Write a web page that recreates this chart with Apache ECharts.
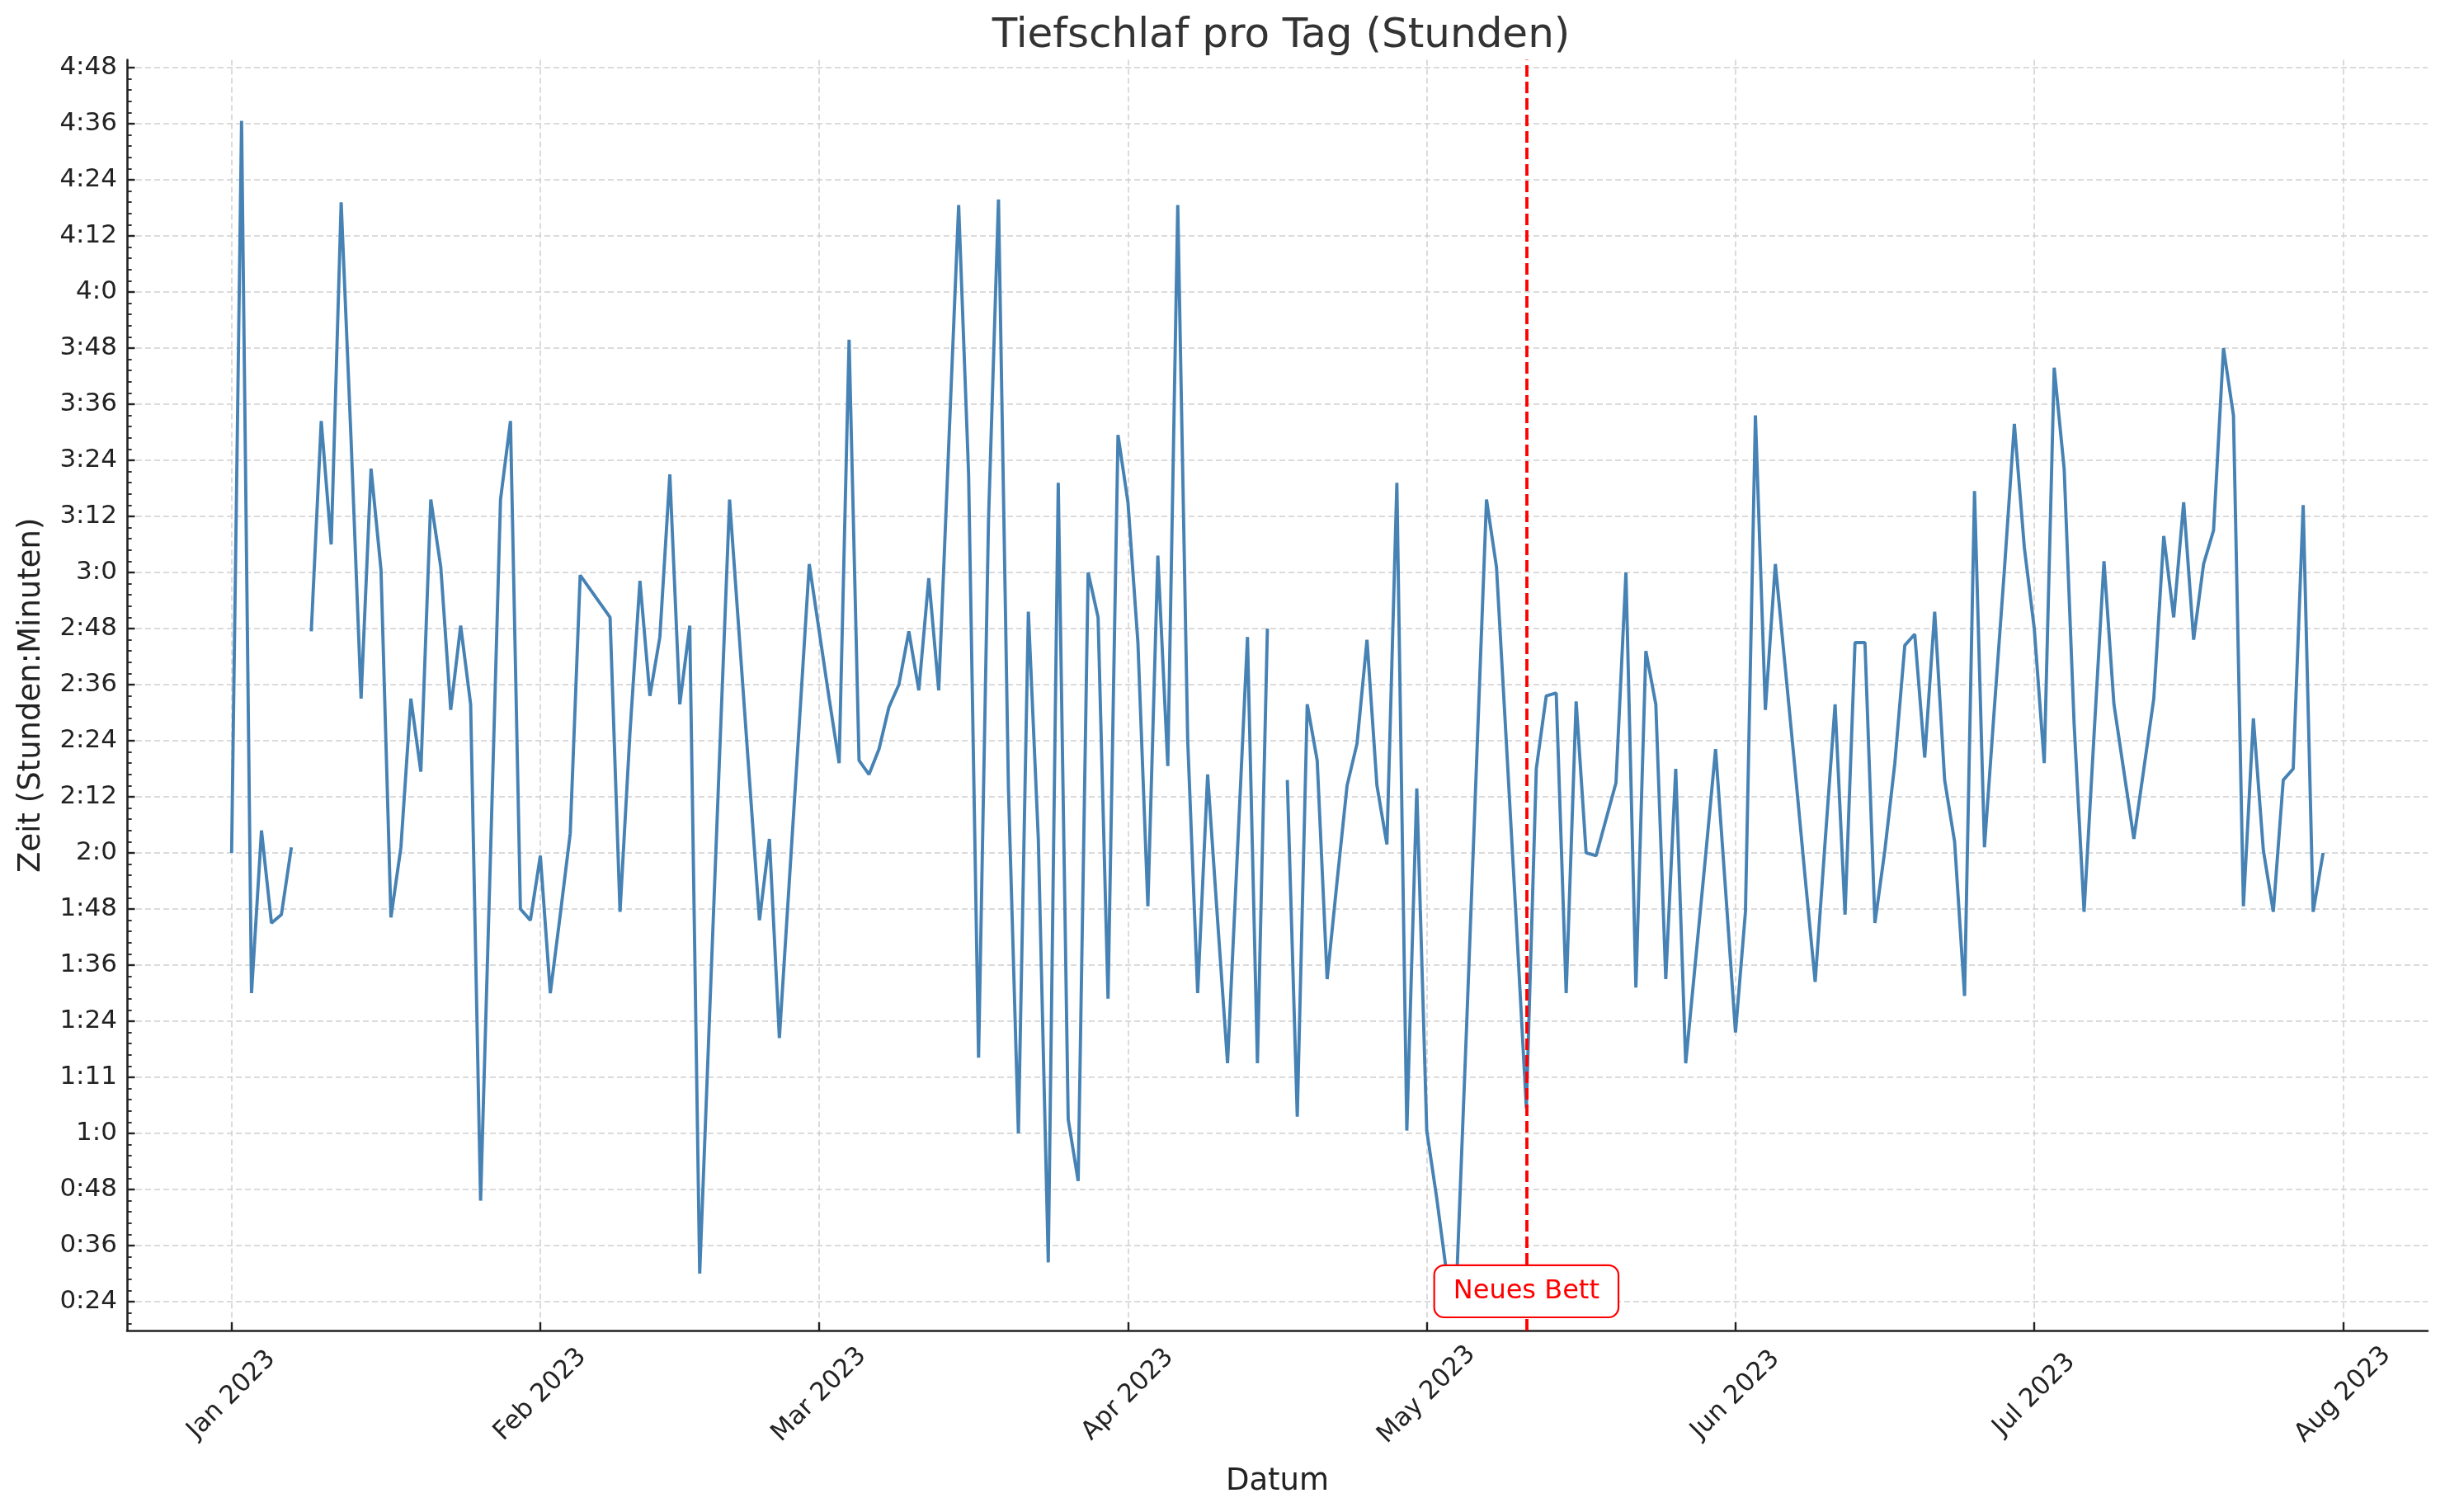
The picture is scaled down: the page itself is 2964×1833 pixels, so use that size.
<!DOCTYPE html>
<html>
<head>
<meta charset="utf-8">
<script src="https://cdn.jsdelivr.net/npm/echarts@6/dist/echarts.min.js"></script>
<style>
html,body{margin:0;padding:0;background:#ffffff;}
#chart{width:2964px;height:1833px;}
</style>
</head>
<body>
<div id="chart"></div>
<script>
// ---------- data (hours of deep sleep per day; null = no value, line breaks) ----------
const monthStarts = ['2023-01-01','2023-02-01','2023-03-01','2023-04-01','2023-05-01','2023-06-01','2023-07-01'];
const janValues = [2.00,4.61,1.50,2.08,1.75,1.78,2.02,null,2.79,3.54,3.10,4.32,3.47,2.55,3.37,3.01,1.77,2.02,2.55,2.29,3.26,3.02,2.51,2.81,2.53,0.76,2.00,3.26,3.54,1.80,1.76];
const febValues = [1.99,1.50,1.78,2.07,2.99,2.94,2.89,2.84,1.79,2.43,2.97,2.56,2.77,3.35,2.53,2.81,0.50,1.43,2.35,3.26,2.76,2.26,1.76,2.05,1.34,1.90,2.46,3.03];
const marValues = [2.79,2.55,2.32,3.83,2.33,2.28,2.37,2.52,2.60,2.79,2.58,2.98,2.58,3.45,4.31,3.35,1.27,3.19,4.33,2.23,1.00,2.86,2.05,0.54,3.32,1.05,0.83,3.00,2.84,1.48,3.49];
const aprValues = [3.25,2.75,1.81,3.06,2.31,4.31,2.40,1.50,2.28,1.76,1.25,2.01,2.77,1.25,2.80,null,2.26,1.06,2.53,2.33,1.55,1.90,2.24,2.39,2.76,2.24,2.03,3.32,1.01,2.23];
const mayValues = [1.01,0.77,0.50,0.47,1.38,2.32,3.26,3.02,2.39,1.75,1.09,2.30,2.56,2.57,1.50,2.54,2.00,1.99,2.12,2.25,3.00,1.52,2.72,2.53,1.55,2.30,1.25,1.62,1.99,2.37,1.87];
const junValues = [1.36,1.79,3.56,2.51,3.03,2.66,2.29,1.91,1.54,2.04,2.53,1.78,2.75,2.75,1.75,2.01,2.32,2.74,2.78,2.34,2.86,2.26,2.04,1.49,3.29,2.02,2.52,3.01,3.53,3.09];
const julValues = [2.80,2.32,3.73,3.37,2.46,1.79,2.42,3.04,2.53,2.29,2.05,2.30,2.55,3.13,2.84,3.25,2.76,3.03,3.15,3.80,3.56,1.81,2.48,2.01,1.79,2.26,2.30,3.24,1.79,2.00];

const xTickDates  = ['2023-01-01','2023-02-01','2023-03-01','2023-04-01','2023-05-01','2023-06-01','2023-07-01','2023-08-01'];
const xTickLabels = ['Jan 2023','Feb 2023','Mar 2023','Apr 2023','May 2023','Jun 2023','Jul 2023','Aug 2023'];
const yTickValues = [0.4,0.6,0.8,1.0,1.2,1.4,1.6,1.8,2.0,2.2,2.4,2.6,2.8,3.0,3.2,3.4,3.6,3.8,4.0,4.2,4.4,4.6,4.8];
const yTickLabels = ['0:24','0:36','0:48','1:0','1:11','1:24','1:36','1:48','2:0','2:12','2:24','2:36','2:48','3:0','3:12','3:24','3:36','3:48','4:0','4:12','4:24','4:36','4:48'];

const eventDate = '2023-05-11';
const eventLabel = 'Neues Bett';
const eventLabelY = 0.437;

// ---------- helpers ----------
function toTime(s){ const p = s.split('-').map(Number); return Date.UTC(p[0], p[1]-1, p[2]); }
const monthValues = [janValues,febValues,marValues,aprValues,mayValues,junValues,julValues];
const seriesData = [];
monthValues.forEach((vals, m) => {
  const p = monthStarts[m].split('-').map(Number);
  vals.forEach((v, i) => {
    seriesData.push([Date.UTC(p[0], p[1]-1, p[2] + i), v]);
  });
});
const xTickTimes = xTickDates.map(toTime);
const yMinorValues = [];
for (let k = 8; k <= 120; k++) { if (k % 5 !== 0) yMinorValues.push(+(k*0.04).toFixed(2)); }

const xMin = Date.UTC(2022, 11, 21, 12);
const xMax = Date.UTC(2023, 7, 9, 12);
const yMin = 0.297, yMax = 4.828;

const FONT = 'DejaVu Sans';
const chart = echarts.init(document.getElementById('chart'), null, {renderer:'canvas'});
chart.setOption({
  animation: false,
  backgroundColor: '#ffffff',
  textStyle: { fontFamily: FONT },
  title: {
    text: 'Tiefschlaf pro Tag (Stunden)',
    left: 1548,
    textAlign: 'center',
    top: 14,
    textStyle: { fontFamily: FONT, fontSize: 50, fontWeight: 'normal', color: '#333333' }
  },
  grid: { left: 154, right: 21, top: 72.5, bottom: 220, containLabel: false, outerBoundsMode: 'none' },
  xAxis: {
    type: 'value',
    min: xMin, max: xMax,
    name: 'Datum',
    nameLocation: 'middle',
    nameGap: 165,
    nameTextStyle: { fontFamily: FONT, fontSize: 37, color: '#222222' },
    axisLine: { show: true, onZero: false, lineStyle: { color: '#222222', width: 2.6 } },
    axisTick: { show: true, inside: true, length: 10, customValues: xTickTimes, lineStyle: { color: '#222222', width: 2.4 } },
    axisLabel: {
      show: true, customValues: xTickTimes, rotate: 45, align: 'center', verticalAlign: 'middle', margin: 78,
      fontFamily: FONT, fontSize: 31, color: '#222222',
      formatter: function (v) { const i = xTickTimes.indexOf(v); return i >= 0 ? xTickLabels[i] : ''; }
    },
    splitLine: { show: true, lineStyle: { color: '#cfcfcf', width: 1.5, type: [7, 4] } },
    minorTick: { show: false }
  },
  yAxis: [{
    type: 'value',
    min: yMin, max: yMax,
    name: 'Zeit (Stunden:Minuten)',
    nameLocation: 'middle',
    nameRotate: 90,
    nameGap: 97,
    nameTextStyle: { fontFamily: FONT, fontSize: 37, color: '#222222' },
    axisLine: { show: true, onZero: false, lineStyle: { color: '#222222', width: 2.6 } },
    axisTick: { show: true, inside: true, length: 9.5, customValues: yTickValues, lineStyle: { color: '#222222', width: 2.4 } },
    axisLabel: {
      show: true, customValues: yTickValues, margin: 12,
      fontFamily: FONT, fontSize: 31, color: '#222222',
      formatter: function (v) {
        for (let i = 0; i < yTickValues.length; i++) { if (Math.abs(yTickValues[i] - v) < 1e-6) return yTickLabels[i]; }
        return '';
      }
    },
    splitLine: { show: true, lineStyle: { color: '#cfcfcf', width: 1.5, type: [7, 4] } }
  }, {
    type: 'value',
    min: yMin, max: yMax,
    position: 'left',
    axisLine: { show: false },
    axisTick: { show: true, inside: true, length: 5.7, customValues: yMinorValues, lineStyle: { color: '#222222', width: 1.8 } },
    axisLabel: { show: false },
    splitLine: { show: false }
  }],
  series: [{
    type: 'line',
    data: seriesData,
    yAxisIndex: 0,
    showSymbol: false,
    connectNulls: false,
    lineStyle: { color: '#4682b4', width: 3.9 },
    itemStyle: { color: '#4682b4' },
    z: 3,
    markLine: {
      silent: true,
      symbol: ['none', 'none'],
      label: { show: false },
      lineStyle: { color: '#ff0000', width: 3.8, type: [14, 6] },
      data: [{ xAxis: toTime(eventDate) }]
    }
  }, {
    type: 'line',
    data: [],
    z: 10,
    markPoint: {
      silent: true,
      symbol: 'rect',
      symbolSize: 0,
      data: [{ coord: [toTime(eventDate), eventLabelY] }],
      label: {
        show: true, position: 'inside',
        formatter: eventLabel,
        fontFamily: FONT, fontSize: 32, color: '#ff0000',
        backgroundColor: '#ffffff', borderColor: '#ff0000', borderWidth: 2.2, borderRadius: 11,
        padding: [15, 22, 14, 22]
      }
    }
  }]
});
</script>
</body>
</html>
